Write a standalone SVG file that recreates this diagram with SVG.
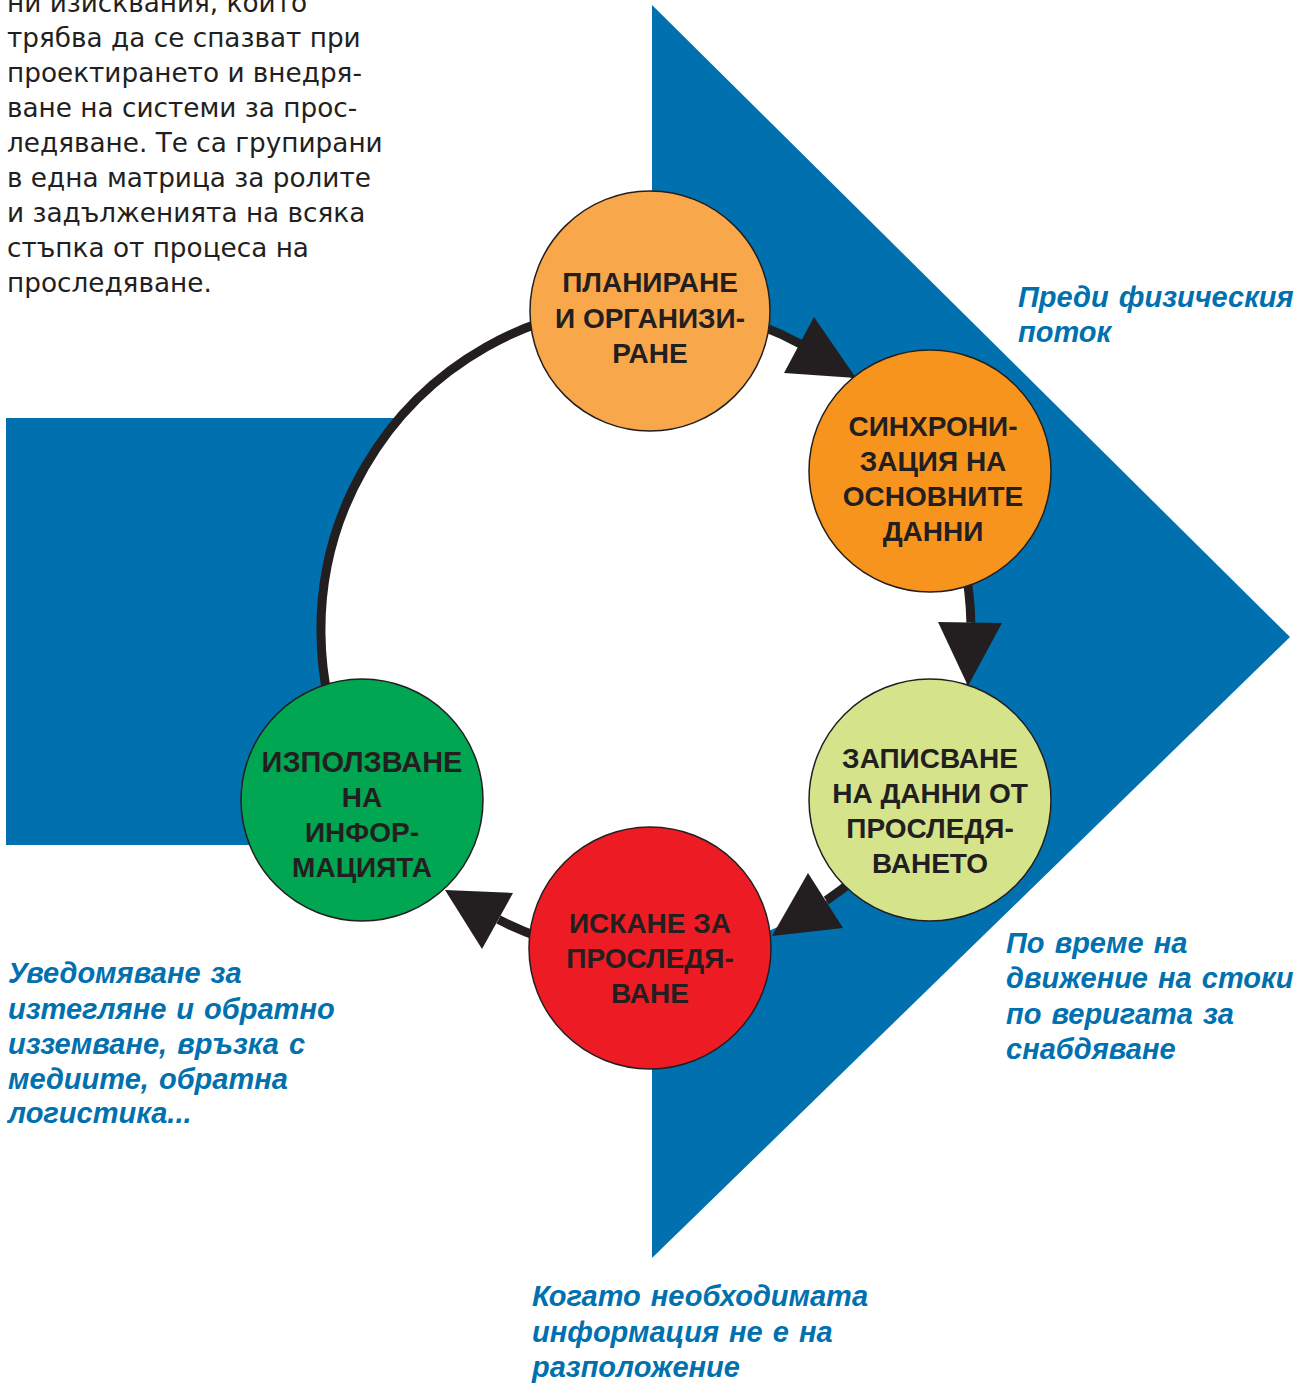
<svg xmlns="http://www.w3.org/2000/svg" width="1311" height="1383" viewBox="0 0 1311 1383">
<style>
.body{font-family:"DejaVu Sans","Liberation Sans",sans-serif;font-size:26.3px;fill:#231F20}
.lab{font-family:"Liberation Sans",Arial,sans-serif;font-weight:bold;font-size:28px;fill:#231F20;text-anchor:middle}
.note{font-family:"Liberation Sans",Arial,sans-serif;font-weight:bold;font-style:italic;font-size:29px;word-spacing:2px;fill:#0070AE}
.node{stroke:#231F20;stroke-width:1.5}
.shaft{fill:none;stroke:#231F20;stroke-width:9}
.head{fill:#231F20}
</style>
<rect width="1311" height="1383" fill="#ffffff"/>
<g id="background">
<rect x="6" y="418" width="660" height="427" fill="#0070AE"/>
<polygon points="652,5 1290,637 652,1258" fill="#0070AE"/>
<circle cx="646" cy="630" r="325" fill="#ffffff"/>
</g>
<g id="intro-text" class="body">
<text x="7" y="12">ни изисквания, които</text>
<text x="7" y="47">трябва да се спазват при</text>
<text x="7" y="82">проектирането и внедря-</text>
<text x="7" y="117">ване на системи за прос-</text>
<text x="7" y="152">ледяване. Те са групирани</text>
<text x="7" y="187">в една матрица за ролите</text>
<text x="7" y="222">и задълженията на всяка</text>
<text x="7" y="257">стъпка от процеса на</text>
<text x="7" y="292">проследяване.</text>
</g>
<g id="connectors">
<path class="shaft" d="M367.4,797.4 A325,325 0 0 1 651.7,305"/>
<path class="shaft" d="M651.7,305 A325,325 0 0 1 800.6,344.1"/>
<polygon class="head" points="814,317 784,373 856,378"/>
<path class="shaft" d="M930.2,472.4 A325,325 0 0 1 970.9,622.6"/>
<polygon class="head" points="938,622 1002,623 968,686"/>
<path class="shaft" d="M925.2,796.4 A325,325 0 0 1 826.3,900.4"/>
<polygon class="head" points="808,873 843,928 772,936"/>
<path class="shaft" d="M651.7,955 A325,325 0 0 1 498.5,919.6"/>
<polygon class="head" points="513,893 482,949 445,890"/>
</g>
<g id="node-planning">
<circle class="node" cx="650" cy="311" r="120" fill="#F9A74B"/>
<text class="lab" x="650" y="292">ПЛАНИРАНЕ</text>
<text class="lab" x="650" y="328">И ОРГАНИЗИ-</text>
<text class="lab" x="650" y="363">РАНЕ</text>
</g>
<g id="node-sync">
<circle class="node" cx="930" cy="471" r="121" fill="#F7941D"/>
<text class="lab" x="933" y="436">СИНХРОНИ-</text>
<text class="lab" x="933" y="471">ЗАЦИЯ НА</text>
<text class="lab" x="933" y="506">ОСНОВНИТЕ</text>
<text class="lab" x="933" y="541">ДАННИ</text>
</g>
<g id="node-record">
<circle class="node" cx="930" cy="800" r="121" fill="#D5E48A"/>
<text class="lab" x="930" y="768">ЗАПИСВАНЕ</text>
<text class="lab" x="930" y="803">НА ДАННИ ОТ</text>
<text class="lab" x="930" y="838">ПРОСЛЕДЯ-</text>
<text class="lab" x="930" y="873">ВАНЕТО</text>
</g>
<g id="node-request">
<circle class="node" cx="650" cy="948" r="121" fill="#ED1C24"/>
<text class="lab" x="650" y="933">ИСКАНЕ ЗА</text>
<text class="lab" x="650" y="968">ПРОСЛЕДЯ-</text>
<text class="lab" x="650" y="1003">ВАНЕ</text>
</g>
<g id="node-use">
<circle class="node" cx="362" cy="800" r="121" fill="#00A651"/>
<text class="lab" x="362" y="772" style="font-size:29px">ИЗПОЛЗВАНЕ</text>
<text class="lab" x="362" y="807">НА</text>
<text class="lab" x="362" y="842">ИНФОР-</text>
<text class="lab" x="362" y="877">МАЦИЯТА</text>
</g>
<g id="notes" class="note">
<text x="1018" y="307">Преди физическия</text>
<text x="1018" y="342">поток</text>
<text x="1006" y="953">По време на</text>
<text x="1006" y="988">движение на стоки</text>
<text x="1006" y="1024">по веригата за</text>
<text x="1006" y="1059">снабдяване</text>
<text x="8" y="983">Уведомяване за</text>
<text x="8" y="1019">изтегляне и обратно</text>
<text x="8" y="1054">изземване, връзка с</text>
<text x="8" y="1089">медиите, обратна</text>
<text x="8" y="1123">логистика...</text>
<text x="532" y="1306">Когато необходимата</text>
<text x="532" y="1342">информация не е на</text>
<text x="532" y="1377">разположение</text>
</g>
</svg>
